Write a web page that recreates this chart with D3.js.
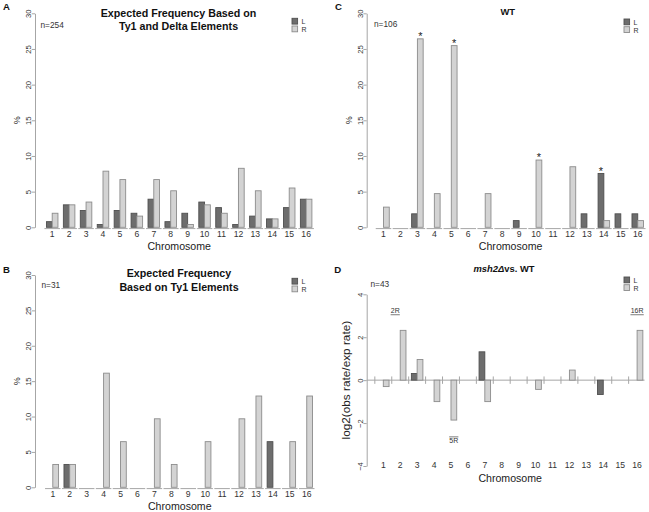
<!DOCTYPE html>
<html><head><meta charset="utf-8">
<script src="https://cdn.jsdelivr.net/npm/d3@7"></script>
<style>body{margin:0;background:#fff} svg{display:block;font-family:"Liberation Sans",Arial,Helvetica,sans-serif}</style>
</head><body><svg id="c" width="649" height="512"></svg>
<script>
// ---------- data ----------
const chromosomes = ["1","2","3","4","5","6","7","8","9","10","11","12","13","14","15","16"];
const percentTicks = [0,5,10,15,20,25,30];
const ratioTicks = [-4,-2,0,2,4];

// A: expected frequency, Ty1 and delta elements (n=254)
const aL = [0.79,3.15,2.36,0.39,2.36,1.97,3.94,0.79,1.97,3.54,2.76,0.39,1.57,1.18,2.76,3.94];
const aR = [1.97,3.15,3.54,7.87,6.69,1.57,6.69,5.12,0.39,3.15,1.97,8.27,5.12,1.18,5.51,3.94];
// B: expected frequency, Ty1 elements (n=31)
const bL = [0,3.23,0,0,0,0,0,0,0,0,0,0,0,6.45,0,0];
const bR = [3.23,3.23,0,16.13,6.45,0,9.68,3.23,0,6.45,0,9.68,12.90,0,6.45,12.90];
// C: WT (n=106)
const cL = [0,0,1.89,0,0,0,0,0,0.94,0,0,0,1.89,7.55,1.89,1.89];
const cR = [2.83,0,26.42,4.72,25.47,0,4.72,0,0,9.43,0,8.49,0,0.94,0,0.94];
const cStars = [{chr:"3",side:"R"},{chr:"5",side:"R"},{chr:"10",side:"R"},{chr:"14",side:"L"}];
// D: msh2 vs WT, log2(obs rate/exp rate) (n=43)
const dL = [null,null,0.31,null,null,null,1.32,null,null,null,null,null,null,-0.67,null,null];
const dR = [-0.30,2.32,0.96,-1.00,-1.86,null,-1.00,null,null,-0.43,null,0.47,null,null,null,2.32];
const dNotes = [{label:"2R",chr:"2",value:3.15},{label:"5R",chr:"5",value:-2.95},{label:"16R",chr:"16",value:3.15}];
const sides = ["L","R"];

// ---------- drawing ----------
const svg = d3.select("#c");
const DARK = "#6d6d6d", DARK_S = "#4f4f4f", LIGHT = "#d3d3d3", LIGHT_S = "#8c8c8c";
const AXIS = "#a6a6a6", TXT = "#333";

function drawPanel(p) {
  const g = svg.append("g");
  const y = d3.scaleLinear().domain(p.domain).range(p.yRange);
  const x = d3.scaleBand().domain(chromosomes)
      .range([p.first - p.step/2, p.first + p.step*15.5]).padding(0);
  const sub = d3.scaleBand().domain(sides).range([0, x.bandwidth()]).paddingInner(0).paddingOuter(0.47);

  // y axis
  const ya = g.append("g").attr("transform", `translate(${p.axisX},0)`)
    .call(d3.axisLeft(y).tickValues(p.ticks).tickSize(3.3).tickSizeOuter(0).tickFormat(d3.format("d")));
  ya.select(".domain").attr("stroke", AXIS);
  ya.selectAll(".tick line").attr("stroke", AXIS);
  ya.selectAll(".tick text").attr("x", 0).attr("dy", 0).attr("y", 0)
    .attr("transform", "translate(-3.6,0) rotate(-90)")
    .attr("text-anchor", "middle").attr("fill", TXT)
    .style("font-size", "7.6px").style("font-family", "Liberation Sans, Arial, sans-serif");

  // x labels
  const xa = g.append("g").attr("transform", `translate(0,${p.labelY})`)
    .call(d3.axisBottom(x).tickSize(0));
  xa.select(".domain").remove();
  xa.selectAll(".tick text").attr("y", 0).attr("dy", 0).attr("fill", TXT)
    .style("font-size", "8.6px").style("font-family", "Liberation Sans, Arial, sans-serif");

  g.append("text").attr("x", (p.first + p.first + 15*p.step)/2).attr("y", p.xTitleY)
    .attr("text-anchor", "middle").attr("fill", "#222").style("font-size", "10.6px").text("Chromosome");

  // y title
  const ym = (p.yRange[0] + p.yRange[1]) / 2;
  g.append("text").attr("transform", `translate(${p.yTitleX},${ym}) rotate(-90)`)
    .attr("text-anchor", "middle").attr("fill", "#222").style("font-size", p.yTitleSize + "px").text(p.yTitle);

  // baseline / zero line
  if (p.zeroLine) {
    g.append("line").attr("x1", p.axisX).attr("x2", x.range()[1] - 1).attr("y1", y(0)).attr("y2", y(0))
      .attr("stroke", AXIS);
    g.selectAll(".sep").data(chromosomes).join("line")
      .attr("x1", d => x(d)).attr("x2", d => x(d)).attr("y1", y(0) - 3.7).attr("y2", y(0) + 3.7)
      .attr("stroke", AXIS);
  } else {
    g.selectAll(".base").data(chromosomes).join("line")
      .attr("x1", d => x(d) + 0.7).attr("x2", d => x(d) + x.bandwidth() - 0.7)
      .attr("y1", p.baseY).attr("y2", p.baseY).attr("stroke", AXIS);
  }

  // bars
  const rows = [];
  chromosomes.forEach((c, i) => {
    rows.push({chr: c, side: "L", v: p.L[i]});
    rows.push({chr: c, side: "R", v: p.R[i]});
  });
  g.selectAll(".bar").data(rows.filter(r => r.v !== null && r.v !== 0)).join("rect")
    .attr("x", d => x(d.chr) + sub(d.side))
    .attr("width", sub.bandwidth())
    .attr("y", d => Math.min(y(d.v), y(0)))
    .attr("height", d => Math.abs(y(d.v) - y(0)))
    .attr("fill", d => d.side === "L" ? DARK : LIGHT)
    .attr("stroke", d => d.side === "L" ? DARK_S : LIGHT_S)
    .attr("stroke-width", 0.9);

  // stars
  if (p.stars) {
    g.selectAll(".star").data(p.stars).join("text")
      .attr("x", d => x(d.chr) + sub(d.side) + sub.bandwidth()/2)
      .attr("y", d => y(p[d.side][chromosomes.indexOf(d.chr)]) + 1.2)
      .attr("text-anchor", "middle").attr("fill", "#222").style("font-size", "11px").text("*");
  }

  // notes (D)
  if (p.notes) {
    const nudge = {"2R": -5, "5R": 2.8, "16R": 0};
    p.notes.forEach(n => {
      const cx = x(n.chr) + x.bandwidth()/2 + nudge[n.label];
      const ty = y(n.value);
      g.append("text").attr("x", cx).attr("y", ty).attr("text-anchor", "middle")
        .attr("fill", "#333").style("font-size", "7px").text(n.label);
      const w = n.label.length * 4.1 + 1;
      const ly = n.value > 0 ? ty + 2.2 : ty - 6.6;
      g.append("line").attr("x1", cx - w/2).attr("x2", cx + w/2).attr("y1", ly).attr("y2", ly)
        .attr("stroke", "#444").attr("stroke-width", 0.7);
    });
  }

  // panel letter
  g.append("text").attr("x", p.letterX).attr("y", p.letterY).attr("font-weight", "bold")
    .attr("fill", "#111").style("font-size", "9.6px").text(p.letter);

  // title
  const tt = g.append("text").attr("text-anchor", "middle").attr("font-weight", "bold").attr("fill", "#111")
    .style("font-size", p.titleSize + "px");
  p.title.forEach((line, i) => {
    const ts = tt.append("tspan").attr("x", p.titleX).attr("y", p.titleY[i]);
    if (Array.isArray(line)) {
      line.forEach(seg => ts.append("tspan").attr("font-style", seg.italic ? "italic" : null).text(seg.t));
    } else ts.text(line);
  });

  // n
  g.append("text").attr("x", p.nX).attr("y", p.nY).attr("fill", TXT).style("font-size", "8.3px").text(p.n);

  // legend
  const lg = g.append("g").attr("transform", `translate(${p.legX},${p.legY})`);
  sides.forEach((s, i) => {
    lg.append("rect").attr("x", 0).attr("y", i*7.7).attr("width", 5.6).attr("height", 5.8)
      .attr("fill", s === "L" ? DARK : LIGHT).attr("stroke", s === "L" ? DARK_S : LIGHT_S).attr("stroke-width", 0.9);
    lg.append("text").attr("x", 9.5).attr("y", i*8.1 + 5.9).attr("fill", TXT).style("font-size", "7px").text(s);
  });
}

drawPanel({letter:"A", letterX:3, letterY:10, axisX:35, domain:[0,30], yRange:[227.3,13.3], ticks:percentTicks,
  first:52.2, step:16.93, baseY:228.6, labelY:237.3, xTitleY:250, yTitle:"%", yTitleX:20, yTitleSize:9,
  title:["Expected Frequency Based on","Ty1 and Delta Elements"], titleX:178.5, titleY:[17.3,29.6], titleSize:10.7,
  n:"n=254", nX:40.5, nY:28, legX:292, legY:18.3, L:aL, R:aR});

drawPanel({letter:"B", letterX:3, letterY:273.3, axisX:35, domain:[0,30], yRange:[487.3,275], ticks:percentTicks,
  first:52.8, step:16.93, baseY:488.6, labelY:497.3, xTitleY:510, yTitle:"%", yTitleX:20, yTitleSize:9,
  title:["Expected Frequency","Based on Ty1 Elements"], titleX:179, titleY:[277,291], titleSize:10.7,
  n:"n=31", nX:41.5, nY:288.3, legX:292, legY:278.3, L:bL, R:bR});

drawPanel({letter:"C", letterX:335, letterY:10, axisX:366.7, domain:[0,30], yRange:[227.3,13.3], ticks:percentTicks,
  first:383.5, step:16.95, baseY:228.6, labelY:237.3, xTitleY:249.5, yTitle:"%", yTitleX:351.5, yTitleSize:9,
  title:["WT"], titleX:507.7, titleY:[15], titleSize:9.4,
  n:"n=106", nX:374, nY:27.3, legX:624, legY:19, L:cL, R:cR, stars:cStars});

drawPanel({letter:"D", letterX:334.3, letterY:273.3, axisX:366.7, domain:[-4,4], yRange:[466,294.3], ticks:ratioTicks,
  first:383.3, step:16.92, zeroLine:true, labelY:468.3, xTitleY:481.7, yTitle:"log2(obs rate/exp rate)", yTitleX:349.5, yTitleSize:11.8,
  title:[[{t:"msh2Δ",italic:true},{t:"vs. WT"}]], titleX:504, titleY:[271.7], titleSize:9.4,
  n:"n=43", nX:370.5, nY:287.3, legX:624, legY:277, L:dL, R:dR, notes:dNotes});
</script></body></html>
